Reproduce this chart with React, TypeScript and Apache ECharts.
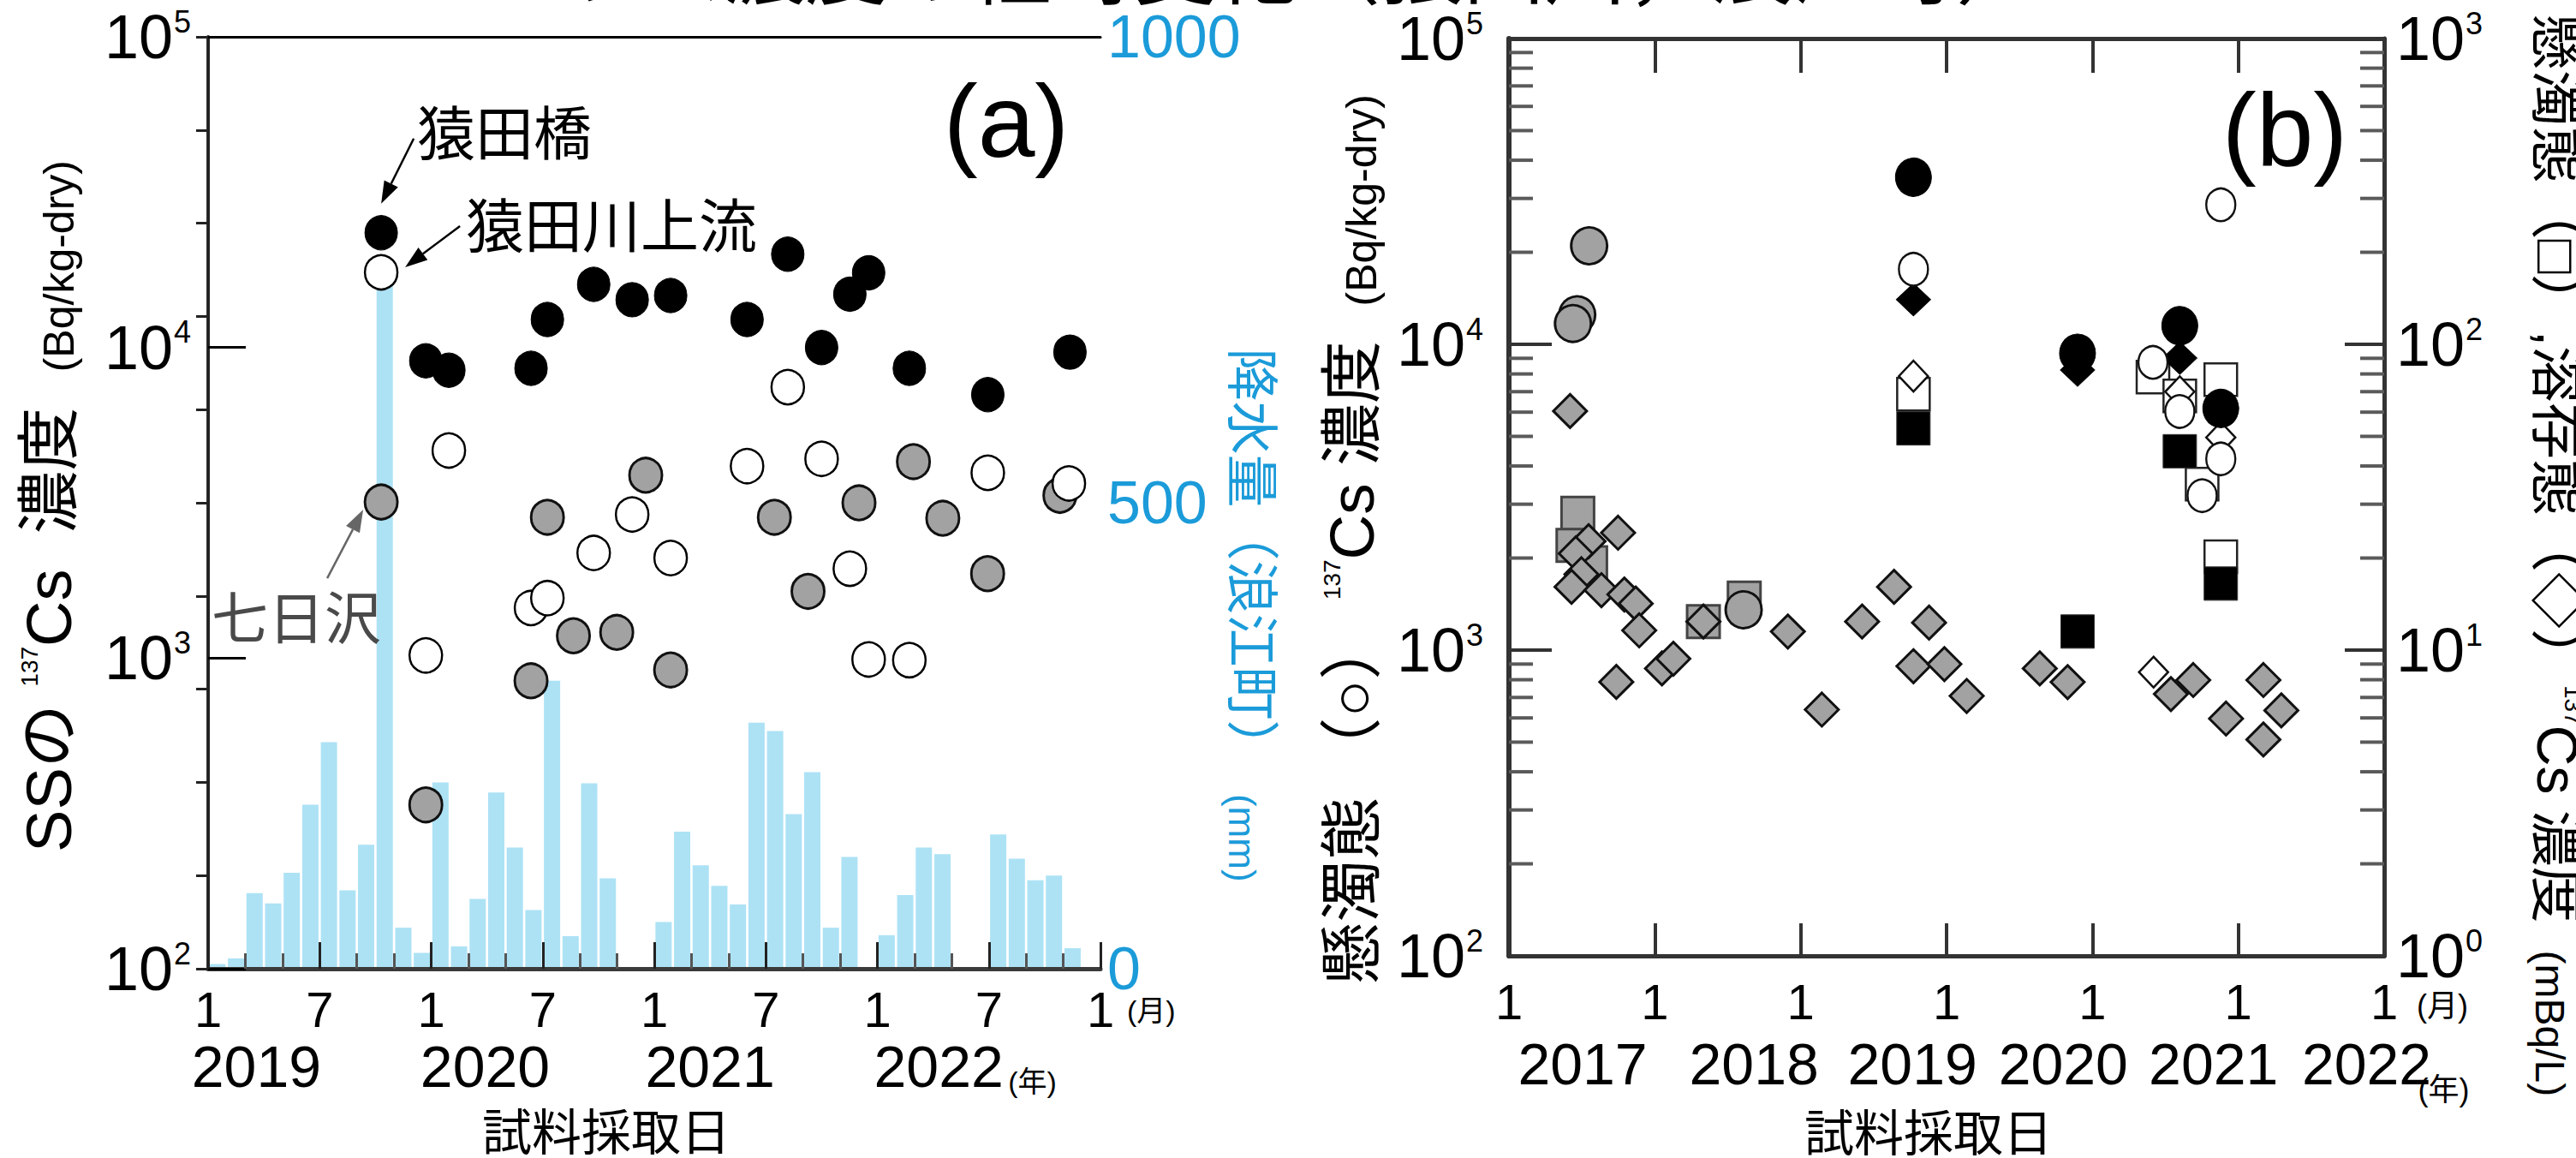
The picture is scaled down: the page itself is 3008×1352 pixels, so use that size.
import React, { useEffect, useRef } from 'react';
import * as echarts from 'echarts';

const LATIN = "'Liberation Sans', Arial, Helvetica, sans-serif";
const JP = "'Liberation Sans', 'Noto Sans CJK JP', sans-serif";
const BLUE = '#1b9bd9';
const BAR = '#ade2f5';
const GRAY = '#a2a2a2';

// ---------------- Panel (a) ----------------
// x: months since 1 Jan 2019; monthly rainfall at Namie (mm), null = no bar
const rain2019 = [5, 11, 81, 70, 103, 176, 243, 84, 133, 735, 44, 17];
const rain2020 = [200, 24, 75, 189, 130, 63, 309, 35, 199, 97, null, null];
const rain2021 = [50, 147, 111, 89, 69, 264, 255, 166, 211, 44, 120, null];
const rain2022 = [36, 79, 130, 123, null, null, 144, 118, 95, 100, 22, null];
const rainYears = [rain2019, rain2020, rain2021, rain2022];

// SS 137Cs concentration (Bq/kg-dry): [month, value]
const sarutaBashiA = [
  [9.31, 23400], [11.71, 9060], [12.95, 8450], [17.37, 8570], [18.25, 12300], [20.74, 15960],
  [22.81, 14250], [24.88, 14700], [28.99, 12300], [31.18, 19960], [33.0, 10000], [34.52, 14840],
  [35.53, 17400], [37.72, 8570], [41.94, 7050], [46.36, 9660],
];
const sarutaUpperA = [
  [9.31, 17460], [11.71, 1020], [12.95, 4660], [17.37, 1450], [18.25, 1560], [20.74, 2180],
  [22.81, 2900], [24.88, 2100], [28.99, 4150], [31.18, 7450], [33.0, 4380], [34.52, 1940],
  [35.53, 990], [37.72, 985], [41.94, 3950], [46.3, 3650],
];
const nanokazawaA = [
  [9.31, 3180], [11.71, 337], [17.37, 845], [18.25, 2840], [19.65, 1180], [21.98, 1210],
  [23.54, 3880], [24.88, 916], [30.46, 2840], [32.27, 1640], [35.01, 3160], [37.94, 4290],
  [39.52, 2820], [41.93, 1870], [45.82, 3340],
];
const yearsA = ['2019', '2020', '2021', '2022'];
const yearPosA = [2.6, 14.9, 27.0, 39.3];

// ---------------- Panel (b) ----------------
// x: decimal year
const ssGrayB = [[2017.55, 21000], [2017.468, 12500], [2017.439, 11700], [2018.609, 1355]];
const ssWhiteB = [[2019.773, 17600], [2021.415, 8730], [2021.599, 6030], [2021.88, 4220], [2021.752, 3200], [2021.88, 28600]];
const ssBlackB = [[2019.773, 35200], [2020.898, 9350], [2021.599, 11500], [2021.88, 6170]];
// suspended (squares) and dissolved (diamonds), mBq/L
const suspGrayB = [[2017.472, 28.0], [2017.439, 22.0], [2017.56, 19.3], [2018.333, 12.4], [2018.613, 14.8]];
const suspWhiteB = [[2019.773, 68.7], [2021.415, 78.2], [2021.599, 67.8], [2021.88, 76.7], [2021.752, 34.9], [2021.88, 20.2]];
const suspBlackB = [[2019.773, 53.1], [2020.898, 11.5], [2021.599, 44.7], [2021.88, 16.5]];
const dissGrayB = [
  [2017.419, 60.5], [2017.748, 24.2], [2017.546, 22.7], [2017.458, 20.7], [2017.497, 17.7],
  [2017.429, 16.1], [2017.634, 15.7], [2017.791, 15.2], [2017.869, 14.2], [2017.893, 11.6],
  [2017.736, 7.87], [2018.049, 8.71], [2018.127, 9.37], [2018.333, 12.4], [2018.912, 11.5],
  [2019.145, 6.39], [2019.421, 12.4], [2019.64, 16.1], [2019.773, 8.86], [2019.88, 12.3],
  [2019.985, 9.0], [2020.138, 7.08], [2020.639, 8.71], [2020.83, 7.86], [2021.538, 7.18],
  [2021.691, 7.98], [2021.916, 5.97], [2022.172, 7.98], [2022.295, 6.35], [2022.172, 5.1],
];
const dissWhiteB = [[2019.773, 78.7], [2021.599, 70], [2021.88, 49.6], [2021.419, 8.47]];
const dissBlackB = [[2019.773, 140], [2020.898, 82.4], [2021.599, 90.2]];
const minorTicksB = [
  200, 300, 400, 500, 600, 700, 800, 900,
  2000, 3000, 4000, 5000, 6000, 7000, 8000, 9000,
  20000, 30000, 40000, 50000, 60000, 70000, 80000, 90000,
];
const yearsB = ['2017', '2018', '2019', '2020', '2021', '2022'];
const yearPosB = [2017.505, 2018.68, 2019.766, 2020.8, 2021.83, 2022.88];

const powFmt = (v: number) => `{b|10}{e|${Math.round(Math.log10(v))}}`;
const powRich = {
  b: { fontSize: 72, fontFamily: LATIN, color: '#000' },
  e: { fontSize: 36, fontFamily: LATIN, color: '#000', verticalAlign: 'top', padding: [0, 0, 0, 1] },
};

function scatterA(data: number[][], fill: string, stroke: string, bw: number) {
  return {
    type: 'scatter', xAxisIndex: 0, yAxisIndex: 0, data, symbol: 'circle', symbolSize: [38, 40],
    itemStyle: { color: fill, borderColor: stroke, borderWidth: bw, opacity: 1 }, z: 3, silent: true,
  };
}
function symB(data: number[][], yi: number, symbol: string, size: number[], fill: string, stroke: string, bw: number, z: number) {
  return {
    type: 'scatter', xAxisIndex: 2, yAxisIndex: yi, data, symbol, symbolSize: size,
    itemStyle: { color: fill, borderColor: stroke, borderWidth: bw, opacity: 1 }, z, silent: true,
  };
}

function buildOption() {
  const rainData: number[][] = [];
  rainYears.forEach((arr, yi) => arr.forEach((v, mi) => { if (v != null) rainData.push([yi * 12 + mi + 0.5, v]); }));
  return {
    animation: false,
    backgroundColor: '#fff',
    grid: [
      { left: 243, top: 43, width: 1042, height: 1088 },
      { left: 1762, top: 45, width: 1022, height: 1071 },
    ],
    xAxis: [
      {
        gridIndex: 0, type: 'value', min: 0, max: 48, interval: 6, position: 'bottom', z: 10,
        axisLine: { show: true, lineStyle: { color: '#3a3a3a', width: 5 } },
        axisTick: { show: true, inside: true, length: 31, lineStyle: { color: '#222', width: 3 } },
        minorTick: { show: true, splitNumber: 3, length: 18, lineStyle: { color: '#555', width: 3 } },
        splitLine: { show: false }, minorSplitLine: { show: false },
        axisLabel: { formatter: (v: number) => (v % 12 === 0 ? '1' : '7'), fontSize: 58, color: '#000', fontFamily: LATIN, margin: 18 },
      },
      {
        gridIndex: 0, type: 'value', min: 0, max: 48, position: 'top', z: 10,
        axisLine: { show: true, lineStyle: { color: '#000', width: 3 } },
        axisTick: { show: false }, axisLabel: { show: false }, splitLine: { show: false },
      },
      {
        gridIndex: 1, type: 'value', min: 2017, max: 2023, interval: 1, position: 'bottom', z: 10,
        axisLine: { show: true, lineStyle: { color: '#333', width: 5 } },
        axisTick: { show: true, inside: true, length: 38, lineStyle: { color: '#333', width: 4 } },
        splitLine: { show: false },
        axisLabel: { formatter: () => '1', fontSize: 58, color: '#000', fontFamily: LATIN, margin: 24 },
      },
      {
        gridIndex: 1, type: 'value', min: 2017, max: 2023, interval: 1, position: 'top', z: 10,
        axisLine: { show: true, lineStyle: { color: '#333', width: 5 } },
        axisTick: { show: true, inside: true, length: 40, lineStyle: { color: '#333', width: 4 } },
        axisLabel: { show: false }, splitLine: { show: false },
      },
    ],
    yAxis: [
      {
        gridIndex: 0, type: 'log', logBase: 10, min: 100, max: 100000, position: 'left', z: 10,
        axisLine: { show: true, lineStyle: { color: '#333', width: 4 } },
        axisTick: { show: true, inside: true, length: 44, lineStyle: { color: '#000', width: 3 } },
        splitLine: { show: false },
        axisLabel: { formatter: powFmt, rich: powRich, margin: 20 },
      },
      {
        gridIndex: 0, type: 'value', min: 0, max: 1000, interval: 100, position: 'right', z: 10,
        axisLine: { show: true, lineStyle: { color: '#222', width: 3 } },
        axisTick: { show: true, inside: true, length: 14, lineStyle: { color: '#222', width: 3 } },
        splitLine: { show: false },
        axisLabel: { formatter: (v: number) => (v % 500 === 0 ? String(v) : ''), color: BLUE, fontSize: 70, fontFamily: LATIN, margin: 8 },
      },
      {
        gridIndex: 1, type: 'log', logBase: 10, min: 100, max: 100000, position: 'left', z: 10,
        axisLine: { show: true, lineStyle: { color: '#333', width: 6 } },
        axisTick: { show: true, inside: true, length: 50, lineStyle: { color: '#333', width: 4 } },
        splitLine: { show: false },
        axisLabel: { formatter: powFmt, rich: powRich, margin: 30 },
      },
      {
        gridIndex: 1, type: 'log', logBase: 10, min: 1, max: 1000, position: 'right', z: 10,
        axisLine: { show: true, lineStyle: { color: '#333', width: 5 } },
        axisTick: { show: true, inside: true, length: 46, lineStyle: { color: '#333', width: 4 } },
        splitLine: { show: false },
        axisLabel: { formatter: powFmt, rich: powRich, margin: 14 },
      },
    ],
    series: [
      { type: 'bar', xAxisIndex: 0, yAxisIndex: 1, data: rainData, barWidth: 19, itemStyle: { color: BAR }, z: 1, silent: true },
      scatterA(nanokazawaA, GRAY, '#111', 3),
      scatterA(sarutaUpperA, '#fff', '#000', 2.5),
      scatterA(sarutaBashiA, '#000', '#000', 1),
      {
        type: 'custom', xAxisIndex: 2, yAxisIndex: 2, silent: true, z: 11, clip: false,
        data: minorTicksB.map((v) => [2017, v]),
        encode: { x: 0, y: 1 },
        renderItem: (_p: any, api: any) => {
          const v = api.value(1);
          const l = api.coord([2017, v]);
          const r = api.coord([2023, v]);
          return {
            type: 'group',
            children: [
              { type: 'line', shape: { x1: l[0], y1: l[1], x2: l[0] + 28, y2: l[1] }, style: { stroke: '#5a5a5a', lineWidth: 4 } },
              { type: 'line', shape: { x1: r[0] - 28, y1: r[1], x2: r[0], y2: r[1] }, style: { stroke: '#5a5a5a', lineWidth: 4 } },
            ],
          };
        },
      },
      symB(suspGrayB, 3, 'rect', [38, 38], GRAY, '#444', 3, 3),
      symB(suspWhiteB, 3, 'rect', [38, 38], '#fff', '#222', 2.5, 3),
      symB(suspBlackB, 3, 'rect', [39, 39], '#000', '#333', 1, 4),
      symB(dissGrayB, 3, 'diamond', [39, 39], GRAY, '#111', 3, 5),
      symB(dissWhiteB, 3, 'diamond', [34, 36], '#fff', '#111', 2.5, 5),
      symB(dissBlackB, 3, 'diamond', [40, 38], '#000', '#000', 1, 5),
      symB(ssGrayB, 2, 'circle', [42, 43], GRAY, '#111', 3, 6),
      symB(ssWhiteB, 2, 'circle', [34, 38], '#fff', '#111', 2.5, 6),
      symB(ssBlackB, 2, 'circle', [42, 45], '#000', '#000', 1, 6),
    ],
  };
}

function arrow(sx: number, sy: number, tx: number, ty: number, color: string) {
  const dx = tx - sx, dy = ty - sy;
  const len = Math.hypot(dx, dy);
  const ux = dx / len, uy = dy / len;
  const hl = 26, hw = 9;
  const bx = tx - ux * hl, by = ty - uy * hl;
  return [
    { type: 'line', z: 20, shape: { x1: sx, y1: sy, x2: bx, y2: by }, style: { stroke: color, lineWidth: 2.5 } },
    { type: 'polygon', z: 20, shape: { points: [[tx, ty], [bx - uy * hw, by + ux * hw], [bx + uy * hw, by - ux * hw]] }, style: { fill: color } },
  ];
}

function txt(text: string, x: number, y: number, size: number, opts: any = {}) {
  return {
    type: 'text', x, y, z: 20, rotation: opts.rotation || 0,
    style: {
      text, fontSize: size, fontFamily: opts.family || JP, fill: opts.fill || '#000',
      align: opts.align || 'center', verticalAlign: opts.valign || 'middle', rich: opts.rich,
    },
  };
}

function buildGraphics(chart: any) {
  const pA = (pt: number[]) => chart.convertToPixel({ xAxisIndex: 0, yAxisIndex: 0 }, pt);
  const xA = (v: number) => chart.convertToPixel({ xAxisIndex: 0 }, v);
  const xB = (v: number) => chart.convertToPixel({ xAxisIndex: 2 }, v);
  const els: any[] = [];

  // title, almost entirely above the top edge (only its lowest strokes show)
  els.push(txt('セシウム濃度の経時変化（猿田川，浪江町）', 1420, 3, 96, { valign: 'bottom', family: "'Noto Sans CJK JP', sans-serif" }));

  // panel letters
  els.push(txt('(a)', 1175, 141, 120, { family: LATIN }));
  els.push(txt('(b)', 2668, 151, 120, { family: LATIN }));

  // annotations in (a)
  const p1 = pA(sarutaBashiA[0]);
  const p2 = pA(sarutaUpperA[0]);
  const p3 = pA(nanokazawaA[0]);
  els.push(...arrow(p1[0] + 38, p1[1] - 110, p1[0], p1[1] - 34, '#000'));
  els.push(...arrow(p2[0] + 92, p2[1] - 54, p2[0] + 28, p2[1] - 6, '#000'));
  els.push(...arrow(p3[0] - 63, p3[1] + 89, p3[0] - 21, p3[1] + 9, '#666'));
  els.push(txt('猿田橋', p1[0] + 42, p1[1] - 120, 68, { align: 'left', family: "'Noto Sans CJK JP', sans-serif" }));
  els.push(txt('猿田川上流', p2[0] + 99, p2[1] - 58, 68, { align: 'left', family: "'Noto Sans CJK JP', sans-serif" }));
  els.push(txt('七日沢', p3[0] - 198, p3[1] + 131, 66, { align: 'left', fill: '#4a4a4a', family: "'Noto Sans CJK JP', sans-serif" }));

  // axis titles
  const titleRich = (size: number, fill: string, small: number) => ({
    m: { fontSize: size, fontFamily: JP, color: fill },
    u: { fontSize: 28, fontFamily: LATIN, color: fill, verticalAlign: 'top' },
    s: { fontSize: small, fontFamily: JP, color: fill, verticalAlign: 'bottom' },
  });
  els.push(txt('{m|SSの }{u|137}{m|Cs  濃度  }{s|(Bq/kg-dry)}', 57, 591, 74, { rotation: Math.PI / 2, rich: titleRich(74, '#000', 50) }));
  els.push(txt('{m|降水量（浪江町）}{s|  (mm)}', 1460, 718, 62, { rotation: -Math.PI / 2, rich: titleRich(62, BLUE, 44), fill: BLUE }));
  els.push(txt('{m|懸濁態 （○） }{u|137}{m|Cs 濃度  }{s|(Bq/kg-dry)}', 1578, 630, 73, { rotation: Math.PI / 2, rich: titleRich(73, '#000', 50) }));
  els.push(txt('{m|懸濁態（□）,溶存態（◇）}{u|137}{m|Cs 濃度 }{s| (mBq/L)}', 2986, 648, 66, { rotation: -Math.PI / 2, rich: titleRich(66, '#000', 48) }));

  // x-axis extras (a)
  yearsA.forEach((y, i) => els.push(txt(y, xA(yearPosA[i]), 1245, 68, { family: LATIN })));
  els.push(txt('(年)', xA(yearPosA[3]) + 81, 1263, 34, { align: 'left' }));
  els.push(txt('(月)', xA(48) + 31, 1180, 34, { align: 'left' }));
  els.push(txt('試料採取日', (xA(0) + xA(48)) / 2 - 56, 1322, 58));

  // x-axis extras (b)
  yearsB.forEach((y, i) => els.push(txt(y, xB(yearPosB[i]), 1242, 68, { family: LATIN })));
  els.push(txt('(年)', xB(yearPosB[5]) + 60, 1272, 36, { align: 'left' }));
  els.push(txt('(月)', xB(2023) + 38, 1174, 36, { align: 'left' }));
  els.push(txt('試料採取日', (xB(2017) + xB(2023)) / 2 - 21, 1323, 58));

  return els;
}

export default function App() {
  const ref = useRef<HTMLDivElement>(null);
  useEffect(() => {
    document.body.style.margin = '0';
    const chart = echarts.init(ref.current as HTMLDivElement, null, { renderer: 'svg' });
    chart.setOption(buildOption() as any);
    chart.setOption({ graphic: { elements: buildGraphics(chart) } } as any);
    return () => chart.dispose();
  }, []);
  return (
    <div
      ref={ref}
      style={{ position: 'absolute', left: 0, top: 0, width: 3008, height: 1352, background: '#fff' }}
    />
  );
}
